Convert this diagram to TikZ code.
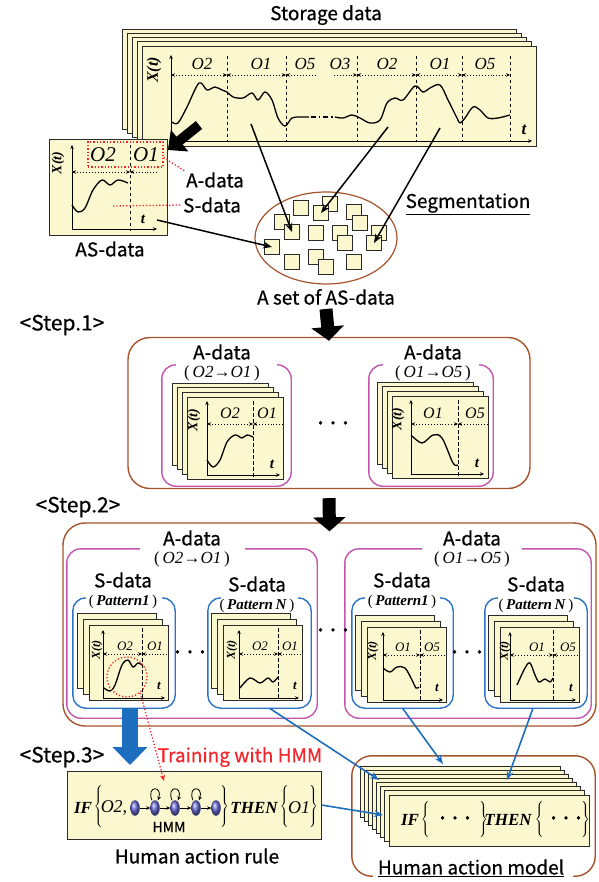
\documentclass[tikz,border=0pt]{standalone}
\usepackage{fontspec}
\setmainfont{Noto Sans CJK JP}[FakeBold=0.6]
\newfontfamily\tms{Liberation Serif}
\usepackage{tikz}
\usetikzlibrary{arrows.meta, positioning, shapes.geometric, calc}

\definecolor{sheetFill}{HTML}{FBF7CF}
\definecolor{sheetEdge}{HTML}{2A2A2A}
\definecolor{boxBrown}{HTML}{A5532B}
\definecolor{grpPink}{HTML}{C256AE}
\definecolor{grpBlue}{HTML}{2C73C6}
\definecolor{linkBlue}{HTML}{1E6EC0}
\definecolor{markRed}{HTML}{F2262C}
\definecolor{stateBlue}{HTML}{6C6CD8}

\newcommand{\lbr}[1]{$\left\{\vrule height #1 depth #1 width 0pt\right.$}
\newcommand{\rbr}[1]{$\left.\vrule height #1 depth #1 width 0pt\right\}$}

\tikzset{
  sheet/.style    = {draw=sheetEdge, fill=sheetFill, line width=0.9pt},
  sq/.style       = {rectangle, draw=sheetEdge, fill=sheetFill, line width=0.9pt,
                     minimum size=15pt, inner sep=0pt},
  ax/.style       = {-{Stealth[length=4pt, width=3.5pt]}, line width=0.7pt},
  seg/.style      = {dash pattern=on 3.5pt off 2.5pt, line width=0.7pt},
  span/.style     = {dotted, line width=0.9pt},
  wave/.style     = {line width=1.3pt, line join=round},
  lbl/.style      = {font=\fontsize{19}{19}\selectfont, inner sep=1pt},
  steplbl/.style  = {font=\fontsize{21}{21}\selectfont, inner sep=1pt},
  olbl/.style     = {font=\tms\itshape\fontsize{#1}{#1}\selectfont, inner sep=0pt},
  xlbl/.style     = {font=\tms\bfseries\itshape\fontsize{#1}{#1}\selectfont,
                     inner sep=0pt, rotate=90},
  tlbl/.style     = {font=\tms\bfseries\itshape\fontsize{#1}{#1}\selectfont, inner sep=0pt},
  kw/.style       = {font=\tms\bfseries\itshape\fontsize{17}{17}\selectfont, inner sep=0pt},
  pair/.style     = {font=\tms\fontsize{17}{17}\selectfont, inner sep=0pt},
  pat/.style      = {font=\tms\fontsize{15}{15}\selectfont, inner sep=0pt},
  ellip/.style    = {font=\bfseries\fontsize{16}{16}\selectfont, inner sep=0pt},
  stepbox/.style  = {draw=boxBrown, line width=1.4pt, rounded corners=22pt, inner sep=0pt},
  grp/.style      = {inner sep=0pt},
  pinkline/.style = {draw=grpPink, line width=1.4pt, rounded corners=14pt},
  blueline/.style = {draw=grpBlue, line width=1.4pt, rounded corners=13pt},
  brownline/.style= {draw=boxBrown, line width=1.4pt, rounded corners=20pt},
  reddot/.style   = {draw=markRed, dotted, line width=1.3pt},
  blkarrow/.style = {-{Stealth[length=9pt, width=7pt]}, line width=1.5pt, black},
  fatarrow/.style = {-{Triangle[length=14pt, width=32pt]}, line width=13pt, black},
  bluefat/.style  = {-{Triangle[length=18pt, width=34pt]}, line width=16pt, linkBlue},
  linkarrow/.style= {-{Stealth[length=9pt, width=7pt]}, line width=1.6pt, linkBlue},
  hmmstate/.style = {ellipse, minimum width=9pt, minimum height=15pt, inner sep=0pt,
                     ball color=stateBlue, draw=stateBlue!60!black, line width=0.4pt},
  hmmarrow/.style = {-{Stealth[length=4pt, width=3.5pt]}, line width=0.8pt},
}

\begin{document}
\begin{tikzpicture}[x=1pt, y=-1pt, >={Stealth[length=4pt, width=3.5pt]}]
  \useasboundingbox (0,0) rectangle (598,882);

  % ---- Storage data ----
  \node[lbl] (storTitle) at (326,15) {Storage data};
  \foreach \k in {0,...,4}
    \draw[sheet] (122+5*\k, 29+4.25*\k) rectangle ++(394,100);
  \draw[ax] (171,141) -- (171,55);
  \draw[ax] (171,141) -- (532,141);
  \node[xlbl=16] (storX) at (154,70) {X(t)};
  \node[tlbl=17] (storT) at (524,130) {t};
  \foreach \x in {227,286,357,416,462,510}
    \draw[seg] (\x,56) -- (\x,141);
  \foreach \x/\o in {202/O2, 261/O1, 305/O5, 340/O3, 387/O2, 440/O1, 485/O5}
    \node[olbl=17] (storO\x) at (\x,64) {\o};
  \draw[span, <->] (171,75) -- (227,75);
  \draw[span, <->] (227,75) -- (286,75);
  \draw[span, <-]  (286,75) -- (315,75);
  \draw[span, ->]  (334,75) -- (357,75);
  \draw[span, <->] (357,75) -- (416,75);
  \draw[span, <->] (416,75) -- (462,75);
  \draw[span, <->] (462,75) -- (510,75);
  \draw[wave] plot[smooth, tension=0.55] coordinates {(172,122) (178,123) (187,107)
    (199,83) (207,90) (215,87) (222,90) (227,92) (233,97) (243,98) (252,93) (258,100)
    (265,92) (272,100) (278,118) (285,126) (292,118) (300,117) (309,117)};
  \draw[wave, line width=1.1pt, dash pattern=on 5pt off 3pt on 1.3pt off 3pt]
    (311,117) -- (334,117);
  \draw[wave] plot[smooth, tension=0.55] coordinates {(335,117) (343,118) (352,115)
    (360,118) (370,123) (380,120) (387,103) (395,98) (403,100) (415,86) (423,92)
    (430,88) (440,85) (448,100) (457,118) (460,123) (465,118) (473,107) (480,110)
    (488,118) (498,118) (510,115)};
  \coordinate (cut1) at (251,124);
  \coordinate (cut2) at (388,127);
  \coordinate (cut3) at (440,128);
  \coordinate (storOut) at (199,125);

  % ---- AS-data ----
  \node[sheet, minimum width=118pt, minimum height=96pt, inner sep=0pt,
        anchor=north west] (asBox) at (49,139) {};
  \draw[ax] (72,229) -- (72,145);
  \draw[ax] (72,229) -- (157,229);
  \draw[seg] (130,145) -- (130,231);
  \node[xlbl=14] (asX) at (58,163) {X(t)};
  \node[tlbl=15] (asT) at (143,219) {t};
  \node[olbl=21] (asO2) at (103,155) {O2};
  \node[olbl=21] (asO1) at (146,155) {O1};
  \draw[span, <->] (72,172) -- (130,172);
  \draw[span, ->]  (157,172) -- (130,172);
  \draw[wave] plot[smooth, tension=0.55] coordinates {(72,205) (78,212) (85,208)
    (93,190) (102,180) (110,185) (118,180) (128,183)};
  \node[reddot, minimum width=75pt, minimum height=25pt, inner sep=0pt]
        (redRect) at (125.5,154.5) {};
  \node[lbl] (aLbl) at (215,180) {A-data};
  \node[lbl] (sLbl) at (212,205) {S-data};
  \coordinate (sPt) at (113,206);
  \draw[reddot] ([yshift=-3pt]redRect.east) -- (aLbl.north west);
  \draw[reddot] (sPt) -- (sLbl.west);
  \node[lbl] (asLbl) at (110,249) {AS-data};
  \coordinate (asOut) at (157,220);
  \draw[fatarrow, line width=10pt, -{Triangle[length=15pt, width=27pt]}]
    (storOut) -- ([yshift=-11pt]asBox.north east);

  % ---- A set of AS-data ----
  \node[ellipse, draw=boxBrown, line width=1.2pt, minimum width=142pt,
        minimum height=92pt] (setEll) at (326,238) {};
  \foreach \n/\x/\y in {1/282/222, 2/292/232, 3/301/208, 4/330/204, 5/321/213,
      6/316/233, 7/272/247, 8/292/262, 9/316/257, 10/326/267, 11/340/233,
      12/345/243, 13/354/212, 14/360/223, 15/379/233, 16/374/243, 17/354/262}
    \node[sq] (q\n) at (\x,\y) {};
  \draw[blkarrow] (cut1) -- (q2.center);
  \draw[blkarrow] (cut2) -- (q5.center);
  \draw[blkarrow] (cut3) -- (q16.center);
  \draw[blkarrow] (asOut) -- (q7.center);
  \node[lbl] (setLbl) at (326,297) {A set of AS-data};
  \node[lbl] (segLbl) at (468,204) {\underline{Segmentation}};

  % ---- Step 1 ----
  \node[steplbl] (step1Lbl) at (62,325) {<Step.1>};
  \node[stepbox, minimum width=402pt, minimum height=151pt] (step1Box) at (329,413) {};
  \draw[fatarrow] ([yshift=-3pt]setLbl.south) -- ([yshift=-4pt]step1Box.north);
  \node[grp, minimum width=129pt, minimum height=121pt] (pA) at (226.5,425.5) {};
  \node[grp, minimum width=124pt, minimum height=121pt] (pB) at (431,425.5) {};
  \foreach \g in {pA,pB}
    \draw[pinkline] ([xshift=14pt]\g.north west) -- (\g.north west) -- (\g.south west)
      -- (\g.south east) -- (\g.north east) -- ([xshift=-14pt]\g.north east);
  \node[lbl] (aLbl1) at (222,352) {A-data};
  \node[pair] (pairA) at (222,373) {(\,\textit{O2}→\textit{O1}\,)};
  \node[lbl] (aLbl2) at (433,352) {A-data};
  \node[pair] (pairB) at (433,373) {(\,\textit{O1}→\textit{O5}\,)};
  \foreach \k in {0,...,3}
    \draw[sheet] (172+5*\k, 383+4.7*\k) rectangle ++(96,82);
  \foreach \k in {0,...,3}
    \draw[sheet] (377+5*\k, 382+4.7*\k) rectangle ++(96,82);
  % left front sheet
  \draw[ax] (207,475) -- (207,401);
  \draw[ax] (207,475) -- (280,475);
  \draw[seg] (253,401) -- (253,479);
  \node[xlbl=14] (x1a) at (194,420) {X(t)};
  \node[tlbl=15] (t1a) at (272,464) {t};
  \node[olbl=16] (o1a) at (230,413) {O2};
  \node[olbl=16] (o1b) at (267,413) {O1};
  \draw[span, <->] (207,424) -- (253,424);
  \draw[span, ->]  (283,424) -- (253,424);
  \draw[wave] plot[smooth, tension=0.55] coordinates {(207,460) (213,467) (220,460)
    (227,442) (235,435) (242,438) (247,435) (253,437)};
  % right front sheet
  \draw[ax] (411,474) -- (411,400);
  \draw[ax] (411,474) -- (484,474);
  \draw[seg] (458,400) -- (458,478);
  \node[xlbl=14] (x1b) at (398,419) {X(t)};
  \node[tlbl=15] (t1b) at (477,463) {t};
  \node[olbl=16] (o1c) at (433,413) {O1};
  \node[olbl=16] (o1d) at (475,413) {O5};
  \draw[span, <->] (411,424) -- (458,424);
  \draw[span, ->]  (488,424) -- (458,424);
  \draw[wave] plot[smooth, tension=0.55] coordinates {(411,435) (422,443) (433,435)
    (442,438) (453,463) (458,465)};
  \node[ellip] (dots1) at (333,425) {·\,·\,·};

  % ---- Step 2 ----
  \node[steplbl] (step2Lbl) at (78,507) {<Step.2>};
  \node[stepbox, minimum width=533pt, minimum height=203pt] (step2Box) at (329.5,624.5) {};
  \draw[fatarrow] ([yshift=-9pt]step1Box.south) -- ([yshift=-9pt]step2Box.north);
  \node[grp, minimum width=250pt, minimum height=169pt] (pC) at (192,633.5) {};
  \node[grp, minimum width=246pt, minimum height=169pt] (pD) at (468,633.5) {};
  \draw[pinkline] ([xshift=73pt]pC.north west) -- (pC.north west) -- (pC.south west)
    -- (pC.south east) -- (pC.north east) -- ([xshift=-72pt]pC.north east);
  \draw[pinkline] ([xshift=77pt]pD.north west) -- (pD.north west) -- (pD.south west)
    -- (pD.south east) -- (pD.north east) -- ([xshift=-69pt]pD.north east);
  \node[lbl] (aLbl3) at (192,538) {A-data};
  \node[pair] (pairC) at (192,559) {(\,\textit{O2}→\textit{O1}\,)};
  \node[lbl] (aLbl4) at (472,538) {A-data};
  \node[pair] (pairD) at (472,559) {(\,\textit{O1}→\textit{O5}\,)};
  \node[grp, minimum width=102pt, minimum height=110pt] (g1) at (124,653) {};
  \node[grp, minimum width=103pt, minimum height=110pt] (g2) at (259.5,653) {};
  \node[grp, minimum width=101pt, minimum height=110pt] (g3) at (402.5,653) {};
  \node[grp, minimum width=102pt, minimum height=110pt] (g4) at (536,653) {};
  \foreach \g in {g1,g2,g3,g4}
    \draw[blueline] ([xshift=13pt]\g.north west) -- (\g.north west) -- (\g.south west)
      -- (\g.south east) -- (\g.north east) -- ([xshift=-13pt]\g.north east);
  \node[lbl] (sd1) at (123,580) {S-data};
  \node[pat] (pt1) at (123,602) {(\,\textbf{\textit{Pattern1}}\,)};
  \node[lbl] (sd2) at (257,584) {S-data};
  \node[pat] (pt2) at (257,606) {(\,\textbf{\textit{Pattern\,N}}\,)};
  \node[lbl] (sd3) at (402,580) {S-data};
  \node[pat] (pt3) at (402,602) {(\,\textbf{\textit{Pattern1}}\,)};
  \node[lbl] (sd4) at (536,584) {S-data};
  \node[pat] (pt4) at (536,606) {(\,\textbf{\textit{Pattern\,N}}\,)};
  \foreach \bx/\by in {77/613, 211/613, 355/615, 488/615}
    \foreach \k in {0,1,2}
      \draw[sheet] (\bx+6*\k, \by+6*\k) rectangle ++(79,75);
  % pattern sheets
  \draw[ax] (103,698) -- (103,630);
  \draw[ax] (103,698) -- (165,698);
  \draw[seg] (142,628) -- (142,700);
  \node[xlbl=12] (x2a) at (97,650) {X(t)};
  \node[tlbl=13] (t2a) at (159,686) {t};
  \node[olbl=13] (o2a) at (125,646) {O2};
  \node[olbl=13] (o2b) at (155,646) {O1};
  \draw[span, <->] (103,654) -- (142,654);
  \draw[span, ->]  (167,654) -- (142,654);
  \draw[wave] plot[smooth, tension=0.55] coordinates {(104,688) (110,691) (115,685)
    (122,665) (128,660) (133,667) (138,663) (142,665)};
  \draw[ax] (239,698) -- (239,630);
  \draw[ax] (239,698) -- (299,698);
  \draw[seg] (278,628) -- (278,700);
  \node[xlbl=12] (x2b) at (232,650) {X(t)};
  \node[tlbl=13] (t2b) at (295,686) {t};
  \node[olbl=13] (o2c) at (260,646) {O2};
  \node[olbl=13] (o2d) at (290,646) {O1};
  \draw[span, <->] (239,654) -- (278,654);
  \draw[span, ->]  (301,654) -- (278,654);
  \draw[wave] plot[smooth, tension=0.55] coordinates {(240,688) (250,678) (260,683)
    (268,678) (273,682) (278,677)};
  \draw[ax] (383,700) -- (383,632);
  \draw[ax] (383,700) -- (443,700);
  \draw[seg] (420,630) -- (420,702);
  \node[xlbl=12] (x2c) at (373,651) {X(t)};
  \node[tlbl=13] (t2c) at (437,688) {t};
  \node[olbl=13] (o2e) at (403,647) {O1};
  \node[olbl=13] (o2f) at (432,647) {O5};
  \draw[span, <->] (383,655) -- (420,655);
  \draw[span, ->]  (445,655) -- (420,655);
  \draw[wave] plot[smooth, tension=0.55] coordinates {(383,668) (390,672) (397,667)
    (405,668) (412,680) (416,688) (419,687)};
  \draw[ax] (510,700) -- (510,632);
  \draw[ax] (510,700) -- (576,700);
  \draw[seg] (553,630) -- (553,702);
  \node[xlbl=12] (x2d) at (505,651) {X(t)};
  \node[tlbl=13] (t2d) at (571,688) {t};
  \node[olbl=13] (o2g) at (537,647) {O1};
  \node[olbl=13] (o2h) at (568,647) {O5};
  \draw[span, <->] (510,655) -- (553,655);
  \draw[span, ->]  (578,655) -- (553,655);
  \draw[wave] plot[smooth, tension=0.55] coordinates {(517,685) (525,668) (530,663)
    (535,675) (539,682) (545,679) (550,682) (553,678)};
  \node[ellip] (dots2) at (190,654) {·\,·\,·};
  \node[ellip] (dots3) at (333,632) {·\,·\,·};
  \node[ellip] (dots4) at (467,654) {·\,·\,·};
  \node[reddot, circle, minimum size=40pt, inner sep=0pt] (redCirc) at (127,677) {};

  % ---- Step 3 ----
  \node[steplbl] (step3Lbl) at (62,757) {<Step.3>};
  \node[sheet, minimum width=254pt, minimum height=68pt, inner sep=0pt]
        (ruleBox) at (194,805) {};
  \coordinate (ruleIn) at (130,765);
  \draw[bluefat] (g1.south -| ruleIn) -- (ruleIn);
  \node[font=\fontsize{19}{19}\selectfont, text=markRed, inner sep=0pt]
        (trainLbl) at (240,757) {Training with HMM};
  \node[kw] (ifA) at (83,808) {IF};
  \node[inner sep=0pt] (brA1) at (99,807) {\lbr{20pt}};
  \node[olbl=18] (ruleO2) at (114,808) {O2,};
  \foreach \n/\x in {1/135, 2/155, 3/175, 4/196, 5/216}
    \node[hmmstate] (h\n) at (\x,808) {};
  \foreach \a/\b in {1/2, 2/3, 3/4, 4/5}
    \draw[hmmarrow] (h\a) -- (h\b);
  \foreach \n in {2,3,4}
    \draw[hmmarrow] ([xshift=-3pt]h\n.north) .. controls +(-6,-15) and +(5,-15)
      .. ([xshift=3pt]h\n.north);
  \node[font=\fontsize{14}{14}\selectfont, inner sep=0pt] (hmmLbl) at (169,827) {HMM};
  \node[inner sep=0pt] (brA2) at (224,807) {\rbr{20pt}};
  \node[kw] (thenA) at (254,808) {THEN};
  \node[inner sep=0pt] (brA3) at (285,807) {\lbr{20pt}};
  \node[olbl=18] (ruleO1) at (299,808) {O1};
  \node[inner sep=0pt] (brA4) at (313,807) {\rbr{20pt}};
  \node[lbl] (ruleLbl) at (197,856) {Human action rule};
  \coordinate (hmmTip) at (164,781);
  \draw[reddot, -{Stealth[length=6pt, width=5pt]}] (redCirc.-50) -- (hmmTip);

  % ---- Human action model ----
  \foreach \k in {0,...,7}
    \draw[sheet] (360+4.14*\k, 766+4.14*\k) rectangle ++(200,51);
  \node[grp, minimum width=243pt, minimum height=120pt] (modelGrp) at (473.5,816) {};
  \draw[brownline] ([xshift=21pt]modelGrp.south west) -- (modelGrp.south west)
    -- (modelGrp.north west) -- (modelGrp.north east) -- (modelGrp.south east)
    -- ([xshift=-22pt]modelGrp.south east);
  \node[lbl] (modelLbl) at (471,868) {\underline{Human action model}};
  \node[kw] (ifB) at (410,820) {IF};
  \node[inner sep=0pt] (brB1) at (426,820) {\lbr{16pt}};
  \node[ellip] (dotsB1) at (455,820) {·\,·\,·};
  \node[inner sep=0pt] (brB2) at (483,820) {\rbr{16pt}};
  \node[kw] (thenB) at (508,820) {THEN};
  \node[inner sep=0pt] (brB3) at (540,820) {\lbr{16pt}};
  \node[ellip] (dotsB2) at (566,820) {·\,·\,·};
  \node[inner sep=0pt] (brB4) at (585,820) {\rbr{16pt}};

  % ---- Links into the model ----
  \coordinate (mIn1) at (379,780);
  \coordinate (mIn2) at (443,764);
  \coordinate (mIn3) at (507,780);
  \coordinate (mIn4) at (383,815);
  \draw[linkarrow] ([xshift=10pt]g2.south) -- (mIn1);
  \draw[linkarrow] (g3.south) -- (mIn2);
  \draw[linkarrow] ([xshift=-3pt]g4.south) -- (mIn3);
  \draw[linkarrow] (ruleBox.east) -- (mIn4);

\end{tikzpicture}
\end{document}
